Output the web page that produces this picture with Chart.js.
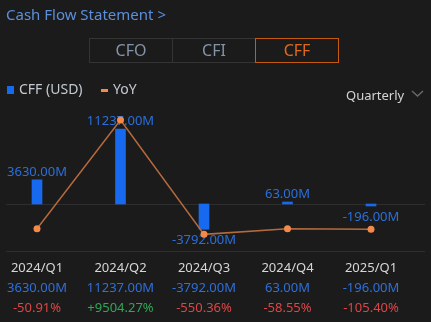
<!DOCTYPE html>
<html>
<head>
<meta charset="utf-8">
<script src="https://cdn.jsdelivr.net/npm/chart.js@4/dist/chart.umd.min.js"></script>
<style>
  body { margin: 0; background: #1b1b1b; font-family: "Noto Sans", "Open Sans", sans-serif; }
  #wrap { position: relative; width: 431px; height: 322px; overflow: hidden; }
  #chart { position: absolute; left: 0; top: 0; }
  .abs { position: absolute; white-space: nowrap; }
  .title { left: 6px; top: 4px; font-size: 15px; color: #5b8fdb; }
  .tabs { left: 89px; top: 38px; width: 250px; height: 25px; display: flex; }
  .tab { flex: 1; border: 1px solid #343434; color: #8494a8; font-size: 16px; text-align: center; line-height: 23px; box-sizing: border-box; }
  .tab + .tab { margin-left: -1px; }
  .tab.on { border-color: #c55a12; color: #e0691c; position: relative; }
  .legend { top: 79px; font-size: 14px; color: #c4cad2; }
  .cell { position: absolute; width: 90px; margin-left: -45px; text-align: center; font-size: 13px; }
</style>
</head>
<body>
<div id="wrap">
  <canvas id="chart" width="431" height="322"></canvas>
  <div class="abs title">Cash Flow Statement &gt;</div>
  <div class="abs tabs">
    <div class="tab">CFO</div>
    <div class="tab">CFI</div>
    <div class="tab on">CFF</div>
  </div>
  <div class="abs legend" style="left:7px;"><span style="display:inline-block;width:7px;height:8px;background:#1769f0;margin-right:5px;"></span>CFF (USD)</div>
  <div class="abs legend" style="left:101px;"><span style="display:inline-block;width:7px;height:3px;background:#f5894a;margin-right:5px;vertical-align:middle;"></span>YoY</div>
  <div class="abs legend" style="left:346px;top:86px;font-size:13px;color:#d4d4d4;">Quarterly</div>
  <svg class="abs" style="left:411px;top:90px;" width="13" height="8"><polyline points="1,1 6.5,6 12,1" fill="none" stroke="#6a6a6a" stroke-width="1.4"/></svg>
  <div id="rows"></div>
</div>
<script>
const categories = ["2024/Q1", "2024/Q2", "2024/Q3", "2024/Q4", "2025/Q1"];
const cffValues = [3630, 11237, -3792, 63, -196]; // millions USD
const yoyValues = [-50.91, 9504.27, -550.36, -58.55, -105.40]; // percent

const fmtM = (v) => v.toFixed(2) + "M";
const fmtPct = (v) => (v > 0 ? "+" : "") + v.toFixed(2) + "%";

// bar value labels and full-width guide lines
const extras = {
  id: "extras",
  beforeDatasetsDraw(chart) {
    const ctx = chart.ctx;
    const y = chart.scales.y;
    ctx.save();
    ctx.strokeStyle = "#2e2e2e";
    ctx.lineWidth = 1;
    [0, y.min].forEach((v) => {
      const py = Math.round(y.getPixelForValue(v)) + 0.5;
      ctx.beginPath();
      ctx.moveTo(6, py);
      ctx.lineTo(425, py);
      ctx.stroke();
    });
    ctx.restore();
  },
  // labels go right after the bars, so the YoY line sits on top of them
  afterDatasetDraw(chart, args) {
    if (args.index !== 1) return;
    const ctx = chart.ctx;
    const bars = args.meta.data;
    ctx.save();
    ctx.font = '13px "Noto Sans", sans-serif';
    ctx.fillStyle = "#2a6fdb";
    ctx.textAlign = "center";
    bars.forEach((bar, i) => {
      const v = cffValues[i];
      if (v >= 0) {
        ctx.textBaseline = "alphabetic";
        ctx.fillText(fmtM(v), bar.x, Math.min(bar.y, bar.base - 2) - 4);
      } else {
        ctx.textBaseline = "top";
        ctx.fillText(fmtM(v), bar.x, Math.max(bar.y, bar.base + 2) + 5);
      }
    });
    ctx.restore();
  }
};

new Chart(document.getElementById("chart"), {
  data: {
    labels: categories,
    datasets: [
      {
        type: "line",
        label: "YoY",
        data: yoyValues,
        yAxisID: "y2",
        borderColor: "#b46a3e",
        borderWidth: 1.5,
        pointBackgroundColor: "#f5894a",
        pointBorderWidth: 0,
        pointRadius: 3.5,
        tension: 0,
        clip: false,
        order: 0
      },
      {
        type: "bar",
        label: "CFF (USD)",
        data: cffValues,
        yAxisID: "y",
        backgroundColor: "#1769f0",
        barThickness: 10,
        minBarLength: 2,
        clip: false,
        order: 1
      }
    ]
  },
  options: {
    responsive: false,
    animation: false,
    layout: { padding: { left: 37, right: 60, top: 110, bottom: 71 } },
    plugins: { legend: { display: false }, tooltip: { enabled: false } },
    scales: {
      x: { display: false, offset: false },
      y: { display: false, min: -7050, max: 14100 },
      y2: { display: false, min: -2013, max: 10381 }
    }
  },
  plugins: [extras]
});

// table under the chart, built from the same arrays
const rows = document.getElementById("rows");
categories.forEach((c, i) => {
  const x = 37 + i * 83.5;
  const add = (txt, top, color) => {
    const d = document.createElement("div");
    d.className = "cell";
    d.style.left = x + "px";
    d.style.top = top + "px";
    d.style.color = color;
    d.textContent = txt;
    rows.appendChild(d);
  };
  add(c, 258, "#d6d6d6");
  add(fmtM(cffValues[i]), 278, "#2f6fd8");
  add(fmtPct(yoyValues[i]), 298, yoyValues[i] >= 0 ? "#2fa855" : "#dc4646");
});
</script>
</body>
</html>
